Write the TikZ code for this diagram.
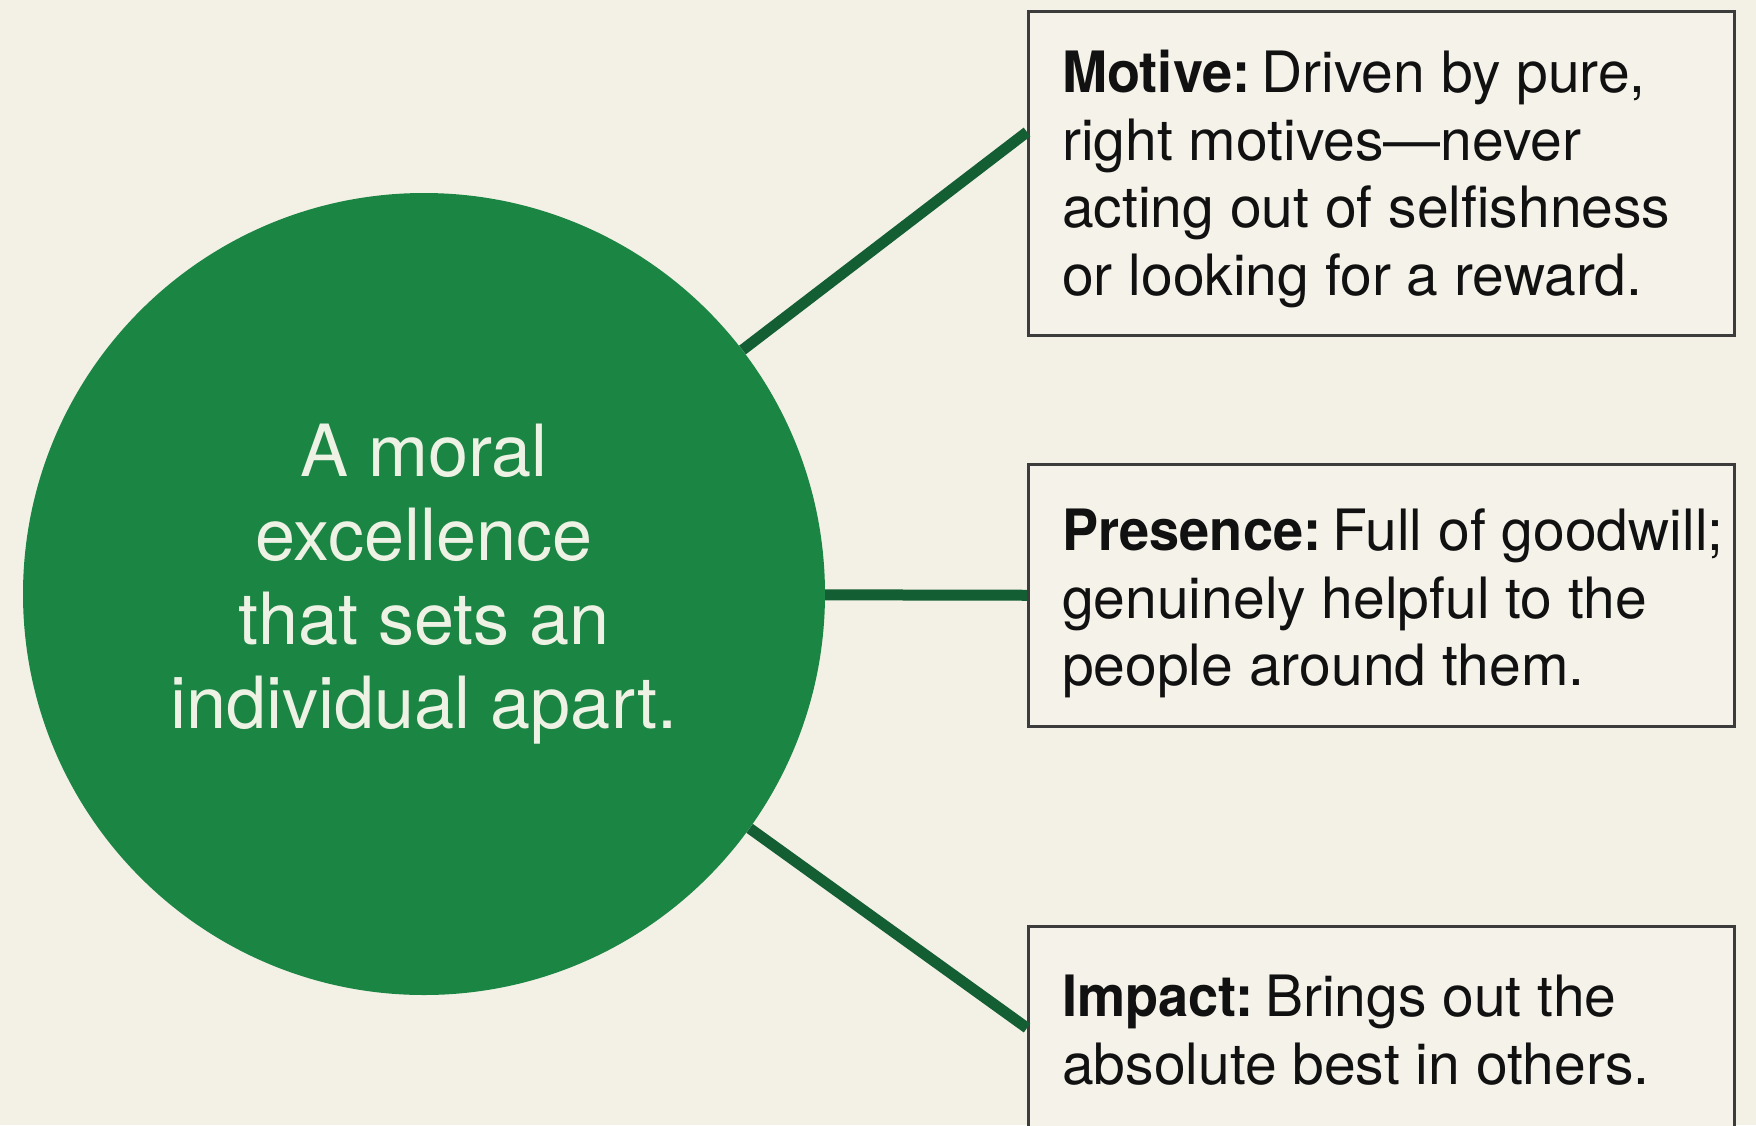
\documentclass[tikz,border=0pt]{standalone}
\usepackage{fontspec}
\setmainfont{TeX Gyre Heros}[BoldFeatures={FakeStretch=0.95}]
\definecolor{bgcol}{HTML}{F3F1E6}
\definecolor{boxfill}{HTML}{F4F2E9}
\definecolor{boxline}{HTML}{3C3C3C}
\definecolor{cgreen}{HTML}{1B8544}
\definecolor{lgreen}{HTML}{145E33}
\definecolor{ctext}{HTML}{EEF2E4}
\definecolor{btext}{HTML}{111111}
\tikzset{
  infobox/.style={draw=boxline, line width=2.5pt, fill=boxfill, rectangle, anchor=north west, minimum width=706pt, inner sep=0pt},
  boxtext/.style={anchor=north west, inner sep=0pt, align=left, text=btext, font=\fontsize{57}{67.5}\selectfont},
  conn/.style={draw=lgreen, line width=11pt},
}
\newcommand{\lbl}[1]{\textbf{#1}\hspace{0.2em}}
\begin{document}
\begin{tikzpicture}[x=1pt,y=-1pt]
\useasboundingbox (0,0) rectangle (1756,1125);
\clip (0,0) rectangle (1756,1125);
\fill[bgcol] (0,0) rectangle (1756,1125);

\node[circle, fill=cgreen, minimum size=802pt, inner sep=0pt] (c) at (424,594) {};
\node[anchor=north, inner sep=0pt, align=center, text=ctext, font=\fontsize{72}{84}\selectfont] (ct) at (424,424)
  {A moral\\excellence\\that sets an\\individual apart.};

\node[infobox, minimum height=324pt] (b1) at (1027,10) {};
\node[infobox, minimum height=262pt] (b2) at (1027,463) {};
\node[infobox, minimum height=260pt] (b3) at (1027,925) {};

\draw[conn] (c) -- (b1.west |- 0,132);
\draw[conn] (c) -- (b2.west);
\draw[conn] (c) -- (b3.west |- 0,1028);

\node[boxtext] (t1) at (1062,50)
  {\lbl{Motive:}Driven by pure,\\right motives\textemdash never\\acting out of selfishness\\or looking for a reward.};
\node[boxtext] (t2) at (1062,509)
  {\lbl{Presence:}Full of goodwill;\\genuinely helpful to the\\people around them.};
\node[boxtext] (t3) at (1062,975)
  {\lbl{Impact:}Brings out the\\absolute best in others.};
\end{tikzpicture}
\end{document}
